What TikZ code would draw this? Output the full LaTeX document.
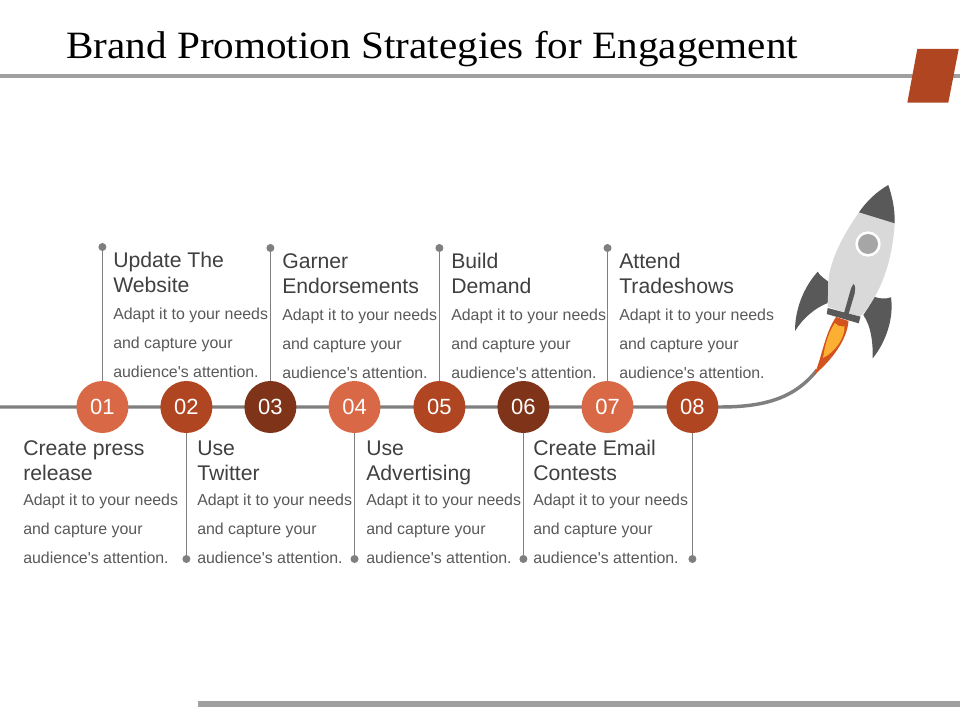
\documentclass[tikz,border=0pt]{standalone}
\usepackage{fontspec}
\newfontfamily\plainsans{Liberation Sans}
\newfontfamily\titlefont[FakeStretch=1.065]{Liberation Serif}
\definecolor{lightO}{HTML}{D96846}
\definecolor{midO}{HTML}{B04522}
\definecolor{darkO}{HTML}{7F3318}
\definecolor{lineG}{HTML}{7F7F7F}
\definecolor{ruleG}{HTML}{A0A0A0}
\definecolor{headT}{HTML}{404040}
\definecolor{bodyT}{HTML}{595959}
\definecolor{rockD}{HTML}{595959}
\definecolor{rockL}{HTML}{D9D9D9}
\definecolor{winG}{HTML}{A6A6A6}
\definecolor{flameR}{HTML}{D4521C}
\definecolor{flameY}{HTML}{FBB034}
\tikzset{
  x=0.75pt,y=-0.75pt,
  stepdisc/.style={circle,minimum size=39pt,inner sep=0pt,text=white,font=\plainsans\fontsize{16.5}{18}\selectfont},
  stem/.style={draw=lineG,line width=0.75pt},
  enddot/.style={circle,fill=lineG,minimum size=6pt,inner sep=0pt},
  headtxt/.style={anchor=base west,inner sep=0pt,text=headT,align=left,font=\plainsans\fontsize{15.9}{18.6}\selectfont},
  bodytxt/.style={anchor=base west,inner sep=0pt,text=bodyT,align=left,font=\plainsans\fontsize{11.93}{21.4}\selectfont},
}
\begin{document}
\begin{tikzpicture}
\useasboundingbox (0,0) rectangle (960,720);
\fill[white] (0,0) rectangle (960,720);
% rules
\fill[ruleG] (0,74) rectangle (960,78.5);
\fill[ruleG] (198,701) rectangle (960,707);
\fill[midO] (917.3,49) -- (958.7,49) -- (948.3,102.7) -- (907.3,102.7) -- cycle;
\node[anchor=base west,inner sep=0pt,text=black,font=\titlefont\fontsize{29}{32}\selectfont] (title) at (66,59) {Brand Promotion Strategies for Engagement};
% timeline
\coordinate (lineL) at (0,407);
\coordinate (lineE) at (817,370);
\foreach \nm/\px in {01/102.4,02/186.4,03/270.4,04/354.5,05/439.4,06/523.4,07/607.5,08/692.4}{
  \coordinate (c\nm) at (\px,407);
}
\draw[lineG,line width=2.6pt] (lineL) -- (c08) -- (720,407) .. controls (765,407) and (795,398) .. (lineE);
% stems
\foreach \nm/\py in {01/247,03/248,05/248,07/248,02/559,04/559,06/559,08/559}{
  \node[enddot] (d\nm) at (c\nm |- 0,\py) {};
  \draw[stem] (c\nm) -- (d\nm);
}
\foreach \nm/\col in {01/lightO,02/midO,03/darkO,04/lightO,05/midO,06/darkO,07/lightO,08/midO}{
  \node[stepdisc,fill=\col] (n\nm) at (c\nm) {\nm};
}
% texts
\foreach \nm/\px/\hy/\by/\ttl in {
  a/113/292/377/{Update The\\Website},
  b/282/293/378/{Garner\\Endorsements},
  c/451/293/378/{Build\\Demand},
  d/619/293/378/{Attend\\Tradeshows},
  e/23/480/563/{Create press\\release},
  f/197/480/563/{Use\\Twitter},
  g/366/480/563/{Use\\Advertising},
  h/533/480/563/{Create Email\\Contests}}{
  \node[headtxt] (h\nm) at (\px,\hy) {\ttl};
  \node[bodytxt] (b\nm) at (\px,\by) {Adapt it to your needs\\and capture your\\audience's attention.};
}
% rocket
\fill[rockD] (828.3,281.7) .. controls (825,279) and (820,276) .. (817.7,271.7) .. controls (803,288) and (795,310) .. (795,331) .. controls (803,318) and (815,308) .. (827.7,303) -- cycle;
\fill[rockD] (863.3,315) .. controls (868,308) and (872,302) .. (874,296.7) .. controls (880,299) and (886,299) .. (891,297.3) .. controls (894,318) and (886,342) .. (872.7,358.3) .. controls (873,342) and (871,326) .. (863.3,315) -- cycle;
\fill[rockL] (859,212.3) .. controls (843,235) and (829,262) .. (828.3,283.3) -- (827.7,307) -- (860,316.7) .. controls (875,302) and (892,270) .. (894.7,223.3) -- cycle;
\fill[rockD] (888.3,185) .. controls (876,192) and (866,202) .. (859,212.3) -- (894.7,223.3) .. controls (895,208) and (892,196) .. (888.3,185) -- cycle;
\fill[white] (868,244) circle (12.7);
\fill[winG] (868,244) circle (10);
% flame
\fill[flameR] (836,317) -- (848.5,321) .. controls (847,340) and (832,360) .. (814,375) .. controls (822,358) and (824,335) .. (836,317) -- cycle;
\fill[flameY] (835,323) .. controls (838,326) and (841,327) .. (844.5,326.5) .. controls (845,338) and (835,352) .. (823,358) .. controls (825,345) and (828,333) .. (835,323) -- cycle;
% base bar and spike
\fill[rockD] (827.7,308) -- (860.5,316.7) -- (858.7,323.3) -- (826.7,314) -- cycle;
\fill[rockD] (853.5,284) .. controls (856,286) and (855,290) .. (854.5,294) -- (848,316) -- (843.5,315) -- (850,292) .. controls (851,288) and (852,286) .. (853.5,284) -- cycle;
\end{tikzpicture}
\end{document}
